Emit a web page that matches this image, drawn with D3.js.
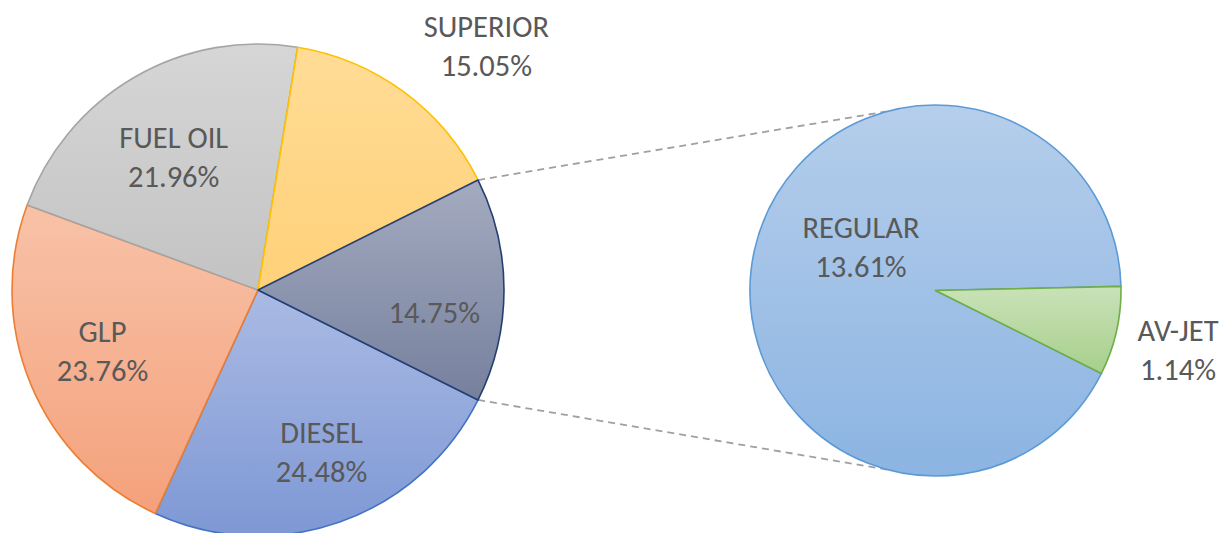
<!DOCTYPE html>
<meta charset="utf-8">
<style>
    body {margin: 0; background: #fff;}
    text {font-family: Carlito, Calibri, Lato, sans-serif; fill: #595959;}
</style>

<svg width="1228" height="533"></svg>

<script src="https://cdnjs.cloudflare.com/ajax/libs/d3/7.8.5/d3.min.js"></script>
<script>

// DATA
var mainNames  = ["OTHER", "DIESEL", "GLP", "FUEL OIL", "SUPERIOR"];
var mainValues = [null, 24.48, 23.76, 21.96, 15.05];

var subNames  = ["REGULAR", "AV-JET"];
var subValues = [13.61, 1.14];

// the "other" slice of the big pie is the sum of the small pie
mainValues[0] = +(d3.sum(subValues).toFixed(2));

// STYLE
var mainFill   = [["#A4ABC0", "#76809D"], ["#AABAE3", "#7E98D5"], ["#F8C2A8", "#F4A17B"],
                  ["#D6D6D6", "#C3C3C3"], ["#FFDC96", "#FFD179"]];
var mainStroke = ["#243F72", "#4472C4", "#ED7D31", "#A5A5A5", "#FFC000"];
var subFill    = [["#B5CEEB", "#8CB4E2"], ["#C9E2B8", "#A7CF8C"]];
var subStroke  = ["#5B9BD5", "#70AD47"];

// label layout: radius factor and small nudge in px
var mainLabelR     = [0.68, 0.68, 0.68, 0.68, 1.36];
var mainLabelNudge = [[9, 22], [8, 5], [-1, -3], [0, 12], [30, 26]];
var subLabelR      = [0.5, 1.34];
var subLabelNudge  = [[16, -23], [0, 6]];

var svg = d3.select("svg"),
    width = +svg.attr("width"),
    height = +svg.attr("height");

var mainC = [258, 290], mainR = 246;
var subC  = [935.5, 290.5], subR = 185.5;

var otherFrac = mainValues[0] / d3.sum(mainValues);

var mainPie = d3.pie().sort(null).value(function(d) { return d; })
    .startAngle(Math.PI / 2 - otherFrac * Math.PI)
    .endAngle(Math.PI / 2 - otherFrac * Math.PI + 2 * Math.PI);

var subPie = d3.pie().sort(null).value(function(d) { return d; })
    .startAngle(Math.PI / 2 + otherFrac * Math.PI)
    .endAngle(Math.PI / 2 + otherFrac * Math.PI + 2 * Math.PI);

var mainArcs = mainPie(mainValues);
var subArcs  = subPie(subValues);

var defs = svg.append("defs");
function grad(id, cols) {
  var g = defs.append("linearGradient").attr("id", id)
      .attr("x1", 0).attr("y1", 0).attr("x2", 0).attr("y2", 1);
  g.append("stop").attr("offset", "0%").attr("stop-color", cols[0]);
  g.append("stop").attr("offset", "100%").attr("stop-color", cols[1]);
}
mainFill.forEach(function(c, i) { grad("gm" + i, c); });
subFill.forEach(function(c, i) { grad("gs" + i, c); });

function polar(c, r, a) {
  return [c[0] + r * Math.sin(a), c[1] - r * Math.cos(a)];
}

// CONNECTOR LINES
var connAngle = 15 * Math.PI / 180;
var p1 = polar(mainC, mainR, mainArcs[0].startAngle),
    p2 = polar(mainC, mainR, mainArcs[0].endAngle),
    q1 = polar(subC, subR, -connAngle),
    q2 = polar(subC, subR, Math.PI + connAngle);

svg.append("g").selectAll("line")
    .data([[p1, q1], [p2, q2]])
    .enter().append("line")
    .attr("x1", function(d) { return d[0][0]; })
    .attr("y1", function(d) { return d[0][1]; })
    .attr("x2", function(d) { return d[1][0]; })
    .attr("y2", function(d) { return d[1][1]; })
    .style("stroke", "#A0A0A0")
    .style("stroke-width", 1.8)
    .style("stroke-dasharray", "7,5");

// MAIN PIE
var mainArc = d3.arc().innerRadius(0).outerRadius(mainR);

var mainG = svg.append("g").attr("transform", "translate(" + mainC + ")");
mainG.selectAll("path")
    .data(mainArcs)
    .enter().append("path")
    .attr("d", mainArc)
    .style("fill", function(d, i) { return "url(#gm" + i + ")"; })
    .style("stroke", function(d, i) { return mainStroke[i]; })
    .style("stroke-width", 1.6)
    .style("stroke-linejoin", "round");
// the other slice outline sits on top
mainG.select("path").raise();

// SUB PIE
var subArc = d3.arc().innerRadius(0).outerRadius(subR);

var subG = svg.append("g").attr("transform", "translate(" + subC + ")");
subG.selectAll("path")
    .data(subArcs)
    .enter().append("path")
    .attr("d", subArc)
    .style("fill", function(d, i) { return "url(#gs" + i + ")"; })
    .style("stroke", function(d, i) { return subStroke[i]; })
    .style("stroke-width", 1.6)
    .style("stroke-linejoin", "round");

// LABELS
function addLabels(g, arcs, names, values, r, rf, nudge) {
  arcs.forEach(function(a, i) {
    var mid = (a.startAngle + a.endAngle) / 2;
    var p = polar([0, 0], r * rf[i], mid);
    var x = p[0] + nudge[i][0], y = p[1] + nudge[i][1];
    var t = g.append("text")
        .attr("text-anchor", "middle")
        .style("font-size", "30.5px");
    var pct = values[i].toFixed(2) + "%";
    if (names[i] == "OTHER") {
      t.append("tspan").attr("x", x).attr("y", y + 10.5).text(pct);
    } else {
      t.append("tspan").attr("x", x).attr("y", y - 9.5).text(names[i]);
      t.append("tspan").attr("x", x).attr("y", y + 29.5).text(pct);
    }
  });
}
addLabels(mainG, mainArcs, mainNames, mainValues, mainR, mainLabelR, mainLabelNudge);
addLabels(subG, subArcs, subNames, subValues, subR, subLabelR, subLabelNudge);

</script>
